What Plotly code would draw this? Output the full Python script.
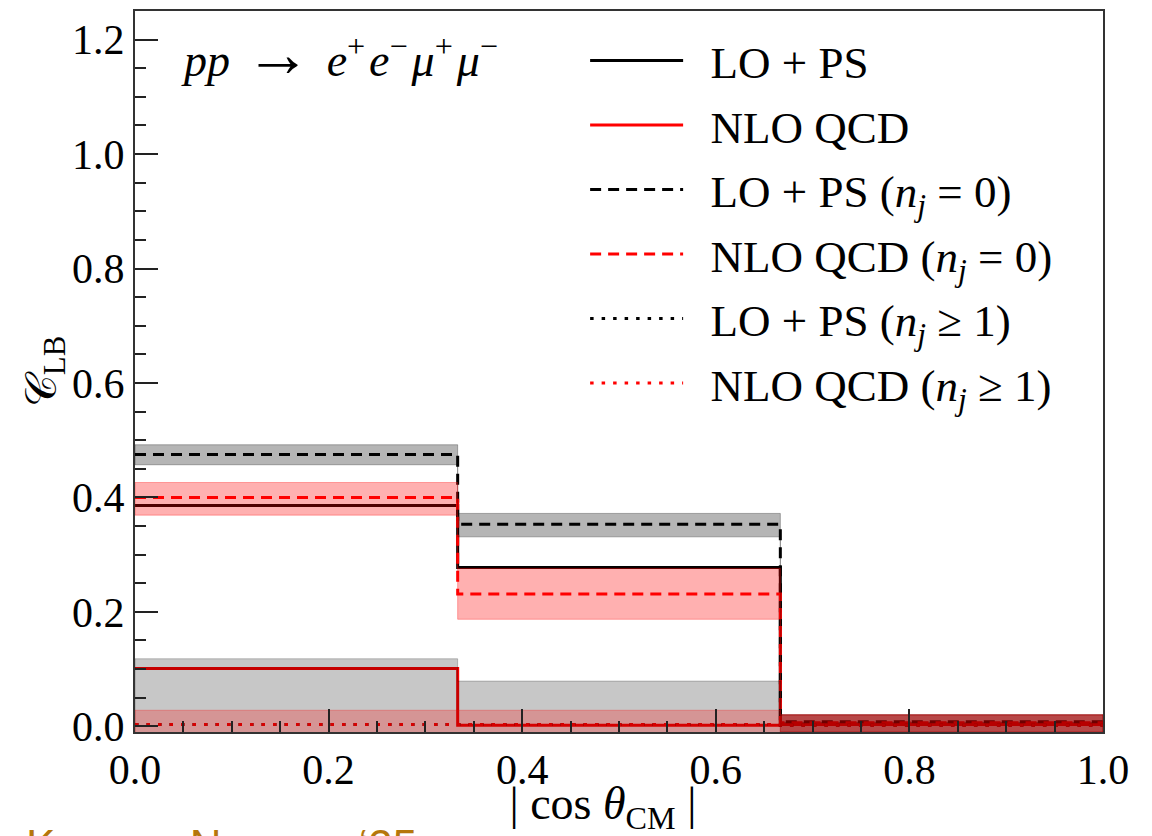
import plotly.graph_objects as go

# Bin edges in |cos theta_CM|
bin_edges = [0.0, 1 / 3, 2 / 3, 1.0]

# Central values per bin
lo_ps = [0.386, 0.2775, 0.004]
nlo_qcd = [0.101, 0.002, 0.003]
lo_ps_nj0 = [0.475, 0.353, 0.008]
nlo_qcd_nj0 = [0.400, 0.231, 0.006]
lo_ps_nj1 = [0.003, 0.003, 0.002]
nlo_qcd_nj1 = [0.003, 0.003, 0.002]

# Uncertainty envelopes per bin (lower, upper)
lo_ps_nj0_lo = [0.457, 0.331, -0.010]
lo_ps_nj0_hi = [0.492, 0.372, 0.020]
nlo_qcd_nj0_lo = [0.369, 0.187, -0.010]
nlo_qcd_nj0_hi = [0.426, 0.276, 0.020]
lo_ps_nj1_lo = [-0.020, -0.020, -0.020]
lo_ps_nj1_hi = [0.118, 0.079, 0.020]
nlo_qcd_nj1_lo = [-0.020, -0.020, -0.020]
nlo_qcd_nj1_hi = [0.028, 0.028, 0.020]

SERIF = "Liberation Serif, Times New Roman, serif"
DASH = "11px,7px"
DOT = "3.5px,8px"
GAP = "\u00a0\u00a0"  # extra room between legend sample and label


def step_xy(vals):
    """x/y of a histogram-style step through the bins (used with 'hv')."""
    return list(bin_edges), list(vals) + [vals[-1]]


def band_xy(lo, hi):
    """Closed polygon of a stepped band between lo and hi."""
    xs, ys = [], []
    for i, v in enumerate(hi):
        xs += [bin_edges[i], bin_edges[i + 1]]
        ys += [v, v]
    for i in reversed(range(len(lo))):
        xs += [bin_edges[i + 1], bin_edges[i]]
        ys += [lo[i], lo[i]]
    return xs + [xs[0]], ys + [ys[0]]


fig = go.Figure()

lines = [
    ("LO + PS", lo_ps, "black", "solid"),
    ("NLO QCD", nlo_qcd, "red", "solid"),
    ("LO + PS (<i>n<sub>j</sub></i> = 0)", lo_ps_nj0, "black", DASH),
    ("NLO QCD (<i>n<sub>j</sub></i> = 0)", nlo_qcd_nj0, "red", DASH),
    ("LO + PS (<i>n<sub>j</sub></i> ≥ 1)", lo_ps_nj1, "black", DOT),
    ("NLO QCD (<i>n<sub>j</sub></i> ≥ 1)", nlo_qcd_nj1, "red", DOT),
]
for k, (name, vals, color, dash) in enumerate(lines):
    x, y = step_xy(vals)
    fig.add_trace(go.Scatter(
        x=x, y=y, mode="lines", name=GAP + name, legendgroup=f"g{k}",
        line=dict(color=color, width=3, dash=dash, shape="hv"),
        hoverinfo="skip",
    ))

bands = [
    (lo_ps_nj0_lo, lo_ps_nj0_hi, "rgba(0,0,0,0.29)"),
    (nlo_qcd_nj0_lo, nlo_qcd_nj0_hi, "rgba(255,0,0,0.31)"),
    (lo_ps_nj1_lo, lo_ps_nj1_hi, "rgba(0,0,0,0.22)"),
    (nlo_qcd_nj1_lo, nlo_qcd_nj1_hi, "rgba(255,0,0,0.25)"),
]
for lo, hi, color in bands:
    x, y = band_xy(lo, hi)
    fig.add_trace(go.Scatter(
        x=x, y=y, mode="lines", fill="toself", fillcolor=color,
        line=dict(color=color, width=1), showlegend=False, hoverinfo="skip",
    ))

axis_common = dict(
    showline=True, linecolor="#333333", linewidth=2, mirror=True,
    ticks="inside", ticklen=23, tickwidth=1.8, tickcolor="#222222",
    tickformat=".1f", tickfont=dict(family=SERIF, size=42, color="black"),
    showgrid=False, zeroline=False, automargin=False,
)

fig.update_xaxes(
    range=[0, 1], dtick=0.2, tick0=0,
    minor=dict(dtick=0.05, ticks="inside", ticklen=11, tickwidth=1.5,
               tickcolor="#222222", showgrid=False),
    title=dict(text="| cos <i>θ</i><sub>CM</sub> |\u2002\u2009\u200b",
               font=dict(family=SERIF, size=46, color="black"), standoff=16),
    **axis_common,
)
fig.update_yaxes(
    range=[-0.01, 1.25], dtick=0.2, tick0=0,
    minor=dict(dtick=0.05, ticks="inside", ticklen=11, tickwidth=1.5,
               tickcolor="#222222", showgrid=False),
    title=dict(text="𝒞<sub>LB</sub>",
               font=dict(family=SERIF, size=44, color="black"), standoff=0),
    **axis_common,
)

fig.add_annotation(
    text="<i>pp</i>\u2004<span style='font-size:66px'>→</span>\u2004"
         "<i>e</i><sup>+</sup>\u200a<i>e</i><sup>−</sup>\u200a"
         "<i>μ</i><sup>+</sup>\u200a<i>μ</i><sup>−</sup>",
    xref="paper", yref="paper", x=0.045, y=0.995, xanchor="left", yanchor="top",
    showarrow=False, font=dict(family=SERIF, size=46, color="black"),
)

fig.add_annotation(
    text="Krause, Navarro ‘25",
    xref="paper", yref="paper", x=-0.115, y=-0.121, xanchor="left", yanchor="top",
    showarrow=False, font=dict(family="Liberation Sans, Arial, sans-serif", size=44,
                               color="#b5770c"),
)

fig.update_layout(
    width=1152, height=836,
    margin=dict(l=135, r=49, t=11, b=104),
    paper_bgcolor="white", plot_bgcolor="white",
    showlegend=True,
    legend=dict(
        x=0.465, y=0.981, xanchor="left", yanchor="top",
        bgcolor="rgba(0,0,0,0)", borderwidth=0,
        font=dict(family=SERIF, size=45, color="black"),
        itemwidth=93, tracegroupgap=3, traceorder="grouped",
    ),
)

fig.write_html("out.html")
